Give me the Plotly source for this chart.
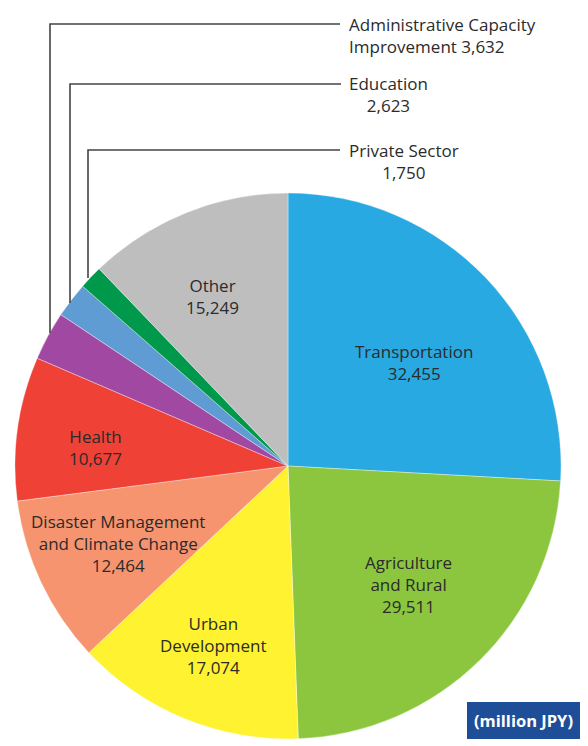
import plotly.graph_objects as go

labels = ["Transportation", "Agriculture and Rural", "Urban Development",
          "Disaster Management and Climate Change", "Health",
          "Administrative Capacity Improvement", "Education", "Private Sector", "Other"]
values = [32455, 29511, 17074, 12464, 10677, 3632, 2623, 1750, 15249]
colors = ["#29A9E1", "#8CC63F", "#FFF231", "#F6946F", "#EF4136",
          "#A149A2", "#5E9CD3", "#00984A", "#BEBEBE"]

W, H = 588, 746
def px(x, y):
    return x / W, 1 - y / H

FONT = "Open Sans"
TXT = "#2b2b2b"
FS = 17

fig = go.Figure(go.Pie(
    labels=labels, values=values, sort=False, direction="clockwise", rotation=0,
    marker=dict(colors=colors, line=dict(color="rgba(255,255,255,0.6)", width=0.6)),
    textinfo="none", hoverinfo="label+value", showlegend=False,
    domain=dict(x=[15 / W, 561 / W], y=[7 / H, 553 / H]),
))

def fmt(v):
    return f"{v:,}"

inside = [
    (f"Transportation<br>{fmt(values[0])}", 414, 362),
    (f"Agriculture<br>and Rural<br>{fmt(values[1])}", 408, 584),
    (f"Urban<br>Development<br>{fmt(values[2])}", 213, 645),
    (f"Disaster Management<br>and Climate Change<br>{fmt(values[3])}", 118, 543),
    (f"Health<br>{fmt(values[4])}", 96, 448),
    (f"Other<br>{fmt(values[8])}", 212, 296),
]
annotations = []
for t, cx, cy in inside:
    x, y = px(cx, cy)
    annotations.append(dict(x=x, y=y, xref="paper", yref="paper", text=t, showarrow=False,
                            xanchor="center", yanchor="middle", align="center",
                            font=dict(family=FONT, size=FS, color=TXT)))

outside = [
    (f"Administrative Capacity<br>Improvement {fmt(values[5])}", 347, 35, "left"),
    (f"Education<br>{fmt(values[6])}", 347, 95, "center"),
    (f"Private Sector<br>{fmt(values[7])}", 347, 161, "center"),
]
for t, lx, cy, al in outside:
    x, y = px(lx, cy)
    annotations.append(dict(x=x, y=y, xref="paper", yref="paper", text=t, showarrow=False,
                            xanchor="left", yanchor="middle", align=al,
                            font=dict(family=FONT, size=FS, color=TXT)))

x, y = px(580, 720)
annotations.append(dict(x=x, y=y, xref="paper", yref="paper", text="<b>(million JPY)</b>",
                        showarrow=False, xanchor="right", yanchor="middle",
                        bgcolor="#1F4E99", borderpad=6, bordercolor="#1F4E99",
                        font=dict(family=FONT, size=16.5, color="white")))

shapes = []
leaders = [((50, 333), 24, 340), ((70, 303), 84, 341), ((88, 278), 150, 340)]
for (sx, sy), ty, ex in leaders:
    x0, y0 = px(sx, sy)
    x1, y1 = px(sx, ty)
    x2, _ = px(ex, ty)
    shapes.append(dict(type="path", xref="paper", yref="paper",
                       path=f"M {x0},{y0} L {x1},{y1} L {x2},{y1}",
                       line=dict(color="#444444", width=1.6)))

fig.update_layout(width=W, height=H, margin=dict(l=0, r=0, t=0, b=0),
                  paper_bgcolor="white", plot_bgcolor="white",
                  annotations=annotations, shapes=shapes)
fig.write_html("out.html", config={"displayModeBar": False},
               post_script="document.body.style.margin='0';document.body.style.overflow='hidden';")
